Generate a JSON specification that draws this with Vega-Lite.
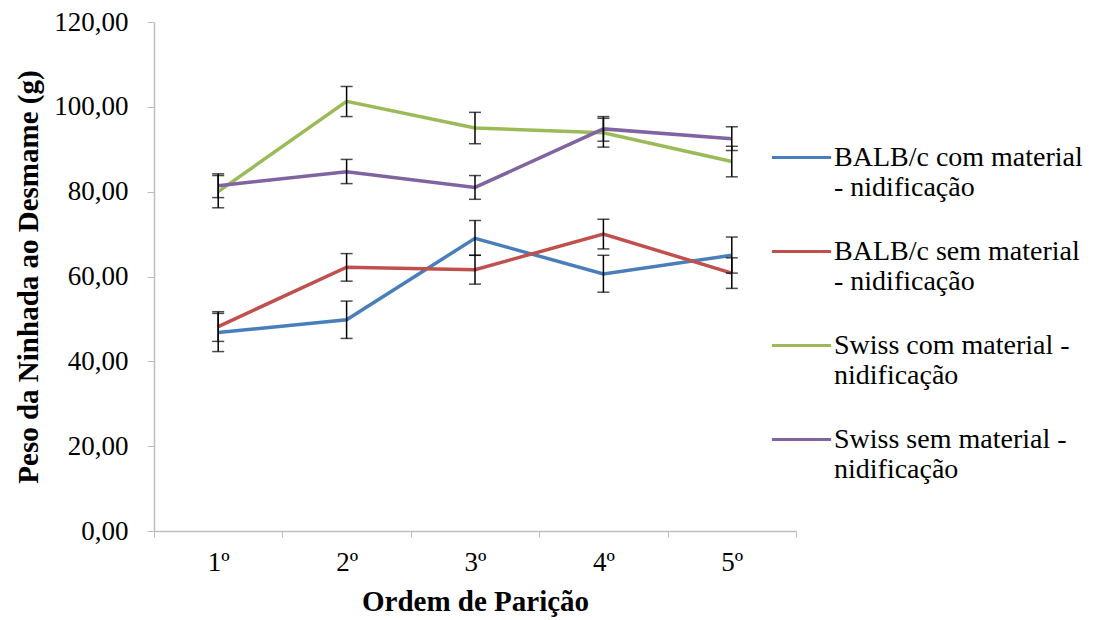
{
  "$schema": "https://vega.github.io/schema/vega-lite/v6.json",
  "width": 642,
  "height": 509,
  "autosize": {"type": "none"},
  "padding": {"left": 154, "top": 22, "right": 309, "bottom": 89},
  "background": "white",
  "config": {
    "view": {"stroke": null},
    "font": "Liberation Serif"
  },
  "data": {
    "values": [
      {"ordem": "1º", "serie": "BALB/c com material - nidificação", "valor": 46.8, "lo": 42.3, "hi": 51.3},
      {"ordem": "2º", "serie": "BALB/c com material - nidificação", "valor": 49.8, "lo": 45.4, "hi": 54.2},
      {"ordem": "3º", "serie": "BALB/c com material - nidificação", "valor": 69.0, "lo": 65.0, "hi": 73.2},
      {"ordem": "4º", "serie": "BALB/c com material - nidificação", "valor": 60.6, "lo": 56.3, "hi": 65.0},
      {"ordem": "5º", "serie": "BALB/c com material - nidificação", "valor": 65.0, "lo": 60.8, "hi": 69.3},
      {"ordem": "1º", "serie": "BALB/c  sem material - nidificação", "valor": 48.2, "lo": 44.7, "hi": 51.7},
      {"ordem": "2º", "serie": "BALB/c  sem material - nidificação", "valor": 62.2, "lo": 58.9, "hi": 65.4},
      {"ordem": "3º", "serie": "BALB/c  sem material - nidificação", "valor": 61.6, "lo": 58.2, "hi": 65.0},
      {"ordem": "4º", "serie": "BALB/c  sem material - nidificação", "valor": 70.0, "lo": 66.5, "hi": 73.5},
      {"ordem": "5º", "serie": "BALB/c  sem material - nidificação", "valor": 60.8, "lo": 57.2, "hi": 64.4},
      {"ordem": "1º", "serie": "Swiss com material - nidificação", "valor": 80.0, "lo": 76.2, "hi": 83.8},
      {"ordem": "2º", "serie": "Swiss com material - nidificação", "valor": 101.3, "lo": 97.7, "hi": 104.8},
      {"ordem": "3º", "serie": "Swiss com material - nidificação", "valor": 95.0, "lo": 91.3, "hi": 98.7},
      {"ordem": "4º", "serie": "Swiss com material - nidificação", "valor": 93.9, "lo": 90.5, "hi": 97.3},
      {"ordem": "5º", "serie": "Swiss com material - nidificação", "valor": 87.1, "lo": 83.5, "hi": 90.7},
      {"ordem": "1º", "serie": "Swiss sem material - nidificação", "valor": 81.4, "lo": 78.6, "hi": 84.2},
      {"ordem": "2º", "serie": "Swiss sem material - nidificação", "valor": 84.7, "lo": 81.9, "hi": 87.6},
      {"ordem": "3º", "serie": "Swiss sem material - nidificação", "valor": 81.0, "lo": 78.2, "hi": 83.8},
      {"ordem": "4º", "serie": "Swiss sem material - nidificação", "valor": 94.8, "lo": 91.9, "hi": 97.7},
      {"ordem": "5º", "serie": "Swiss sem material - nidificação", "valor": 92.5, "lo": 89.7, "hi": 95.3}
    ]
  },
  "encoding": {
    "x": {
      "field": "ordem",
      "type": "nominal",
      "sort": ["1º", "2º", "3º", "4º", "5º"],
      "scale": {"type": "band", "paddingInner": 0, "paddingOuter": 0},
      "axis": {
        "title": "Ordem de Parição",
        "titleFont": "Liberation Serif",
        "titleFontSize": 29,
        "titleFontWeight": "bold",
        "titleColor": "#000000",
        "titlePadding": 12,
        "labelFont": "Liberation Serif",
        "labelFontSize": 27,
        "labelColor": "#000000",
        "labelAngle": 0,
        "labelPadding": 12,
        "domainColor": "#bfbfbf",
        "domainWidth": 1.5,
        "tickColor": "#bfbfbf",
        "tickSize": 6,
        "tickBand": "extent",
        "grid": false
      }
    }
  },
  "layer": [
    {
      "mark": {"type": "line", "strokeWidth": 3.5},
      "encoding": {
        "y": {
          "field": "valor",
          "type": "quantitative",
          "scale": {"domain": [0, 120], "nice": false},
          "axis": {
            "title": "Peso da Ninhada ao Desmame (g)",
            "titleFont": "Liberation Serif",
            "titleFontSize": 29,
            "titleFontWeight": "bold",
            "titleColor": "#000000",
            "titlePadding": 10,
            "values": [0, 20, 40, 60, 80, 100, 120],
            "labelExpr": "replace(format(datum.value, '.2f'), '.', ',')",
            "labelFont": "Liberation Serif",
            "labelFontSize": 27,
            "labelColor": "#000000",
            "labelPadding": 19,
            "domainColor": "#bfbfbf",
            "domainWidth": 1.5,
            "tickColor": "#bfbfbf",
            "tickSize": 7,
            "grid": false
          }
        },
        "color": {
          "field": "serie",
          "type": "nominal",
          "scale": {
            "domain": ["BALB/c com material - nidificação", "BALB/c  sem material - nidificação", "Swiss com material - nidificação", "Swiss sem material - nidificação"],
            "range": ["#4a7ebb", "#c0504d", "#9bbb59", "#8064a2"]
          },
          "legend": {
            "title": null,
            "orient": "none",
            "legendX": 616,
            "legendY": 104,
            "padding": 0,
            "symbolType": "stroke",
            "symbolSize": 3500,
            "symbolStrokeWidth": 3,
            "labelOffset": 1,
            "labelFont": "Liberation Serif",
            "labelFontSize": 28,
            "labelColor": "#000000",
            "labelLimit": 400,
            "labelLineHeight": 34,
            "labelBaseline": "middle",
            "rowPadding": 18,
            "labelExpr": "datum.label == 'Swiss com material - nidificação' ? ['Swiss com material -', 'nidificação'] : datum.label == 'Swiss sem material - nidificação' ? ['Swiss sem material -', 'nidificação'] : [replace(datum.label, ' - nidificação', ''), '- nidificação']"
          }
        }
      }
    },
    {
      "mark": {"type": "rule", "color": "#000000", "strokeWidth": 1.5},
      "encoding": {
        "y": {"field": "lo", "type": "quantitative"},
        "y2": {"field": "hi"},
        "detail": {"field": "serie"}
      }
    },
    {
      "mark": {"type": "tick", "color": "#000000", "thickness": 1.5, "size": 12, "orient": "horizontal"},
      "encoding": {
        "y": {"field": "lo", "type": "quantitative"},
        "detail": {"field": "serie"}
      }
    },
    {
      "mark": {"type": "tick", "color": "#000000", "thickness": 1.5, "size": 12, "orient": "horizontal"},
      "encoding": {
        "y": {"field": "hi", "type": "quantitative"},
        "detail": {"field": "serie"}
      }
    }
  ]
}
